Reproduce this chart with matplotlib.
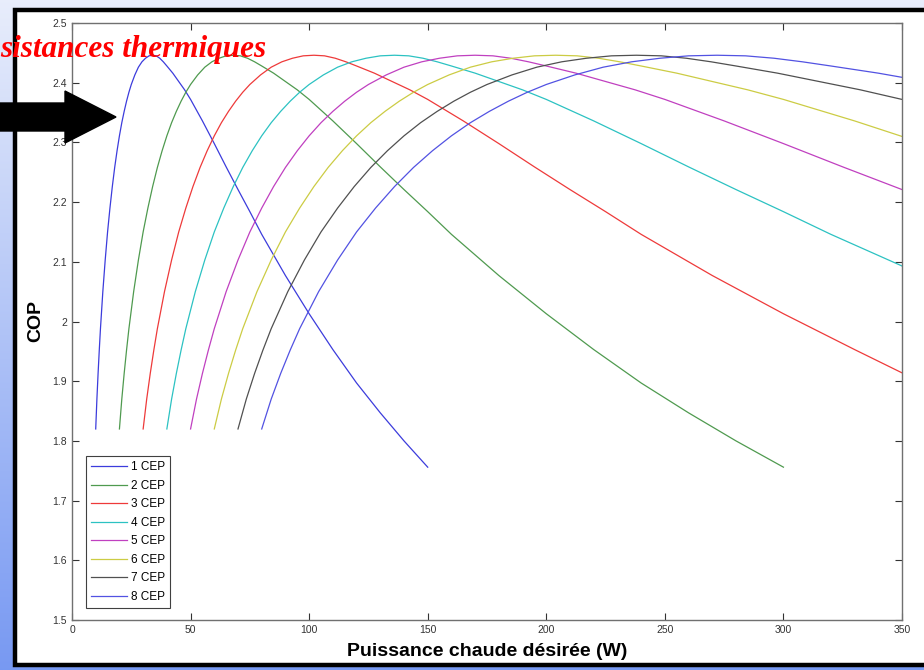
import numpy as np
import matplotlib
matplotlib.use("Agg")
import matplotlib.pyplot as plt
from matplotlib.patches import Rectangle, Polygon
from matplotlib.ticker import FormatStrFormatter

# Courbes COP en fonction de la puissance chaude, pour 1 a 8 CEP
p1 = [10, 10.5, 11, 11.5, 12, 13, 14, 15, 16, 17,
      18, 19, 20, 21, 22, 23, 24, 25, 26.5, 28,
      29.5, 31, 32.5, 34, 35.5, 37, 38.5, 40, 42.5, 45,
      47.5, 50, 55, 60, 65, 70, 75, 80, 90, 100,
      110, 120, 130, 140, 150]
cop1 = [1.820, 1.870, 1.913, 1.952, 1.988, 2.050, 2.103, 2.150, 2.190, 2.226,
        2.258, 2.286, 2.311, 2.333, 2.352, 2.369, 2.384, 2.397, 2.413, 2.426,
        2.435, 2.441, 2.445, 2.446, 2.445, 2.441, 2.435, 2.428, 2.416, 2.402,
        2.388, 2.372, 2.336, 2.298, 2.259, 2.221, 2.184, 2.146, 2.077, 2.013,
        1.953, 1.897, 1.847, 1.800, 1.756]

p2 = [20, 21, 22, 23, 24, 26, 28, 30, 32, 34,
      36, 38, 40, 42, 44, 46, 48, 50, 53, 56,
      59, 62, 65, 68, 71, 74, 77, 80, 85, 90,
      95, 100, 110, 120, 130, 140, 150, 160, 180, 200,
      220, 240, 260, 280, 300]
cop2 = [1.820, 1.870, 1.913, 1.952, 1.988, 2.050, 2.103, 2.150, 2.190, 2.226,
        2.258, 2.286, 2.311, 2.333, 2.352, 2.369, 2.384, 2.397, 2.413, 2.426,
        2.435, 2.441, 2.445, 2.446, 2.445, 2.441, 2.435, 2.428, 2.416, 2.402,
        2.388, 2.372, 2.336, 2.298, 2.259, 2.221, 2.184, 2.146, 2.077, 2.013,
        1.953, 1.897, 1.847, 1.800, 1.756]

p3 = [30, 31.5, 33, 34.5, 36, 39, 42, 45, 48, 51,
      54, 57, 60, 63, 66, 69, 72, 75, 79.5, 84,
      88.5, 93, 97.5, 102, 106.5, 111, 115.5, 120, 127.5, 135,
      142.5, 150, 165, 180, 195, 210, 225, 240, 270, 300,
      330, 350]
cop3 = [1.820, 1.870, 1.913, 1.952, 1.988, 2.050, 2.103, 2.150, 2.190, 2.226,
        2.258, 2.286, 2.311, 2.333, 2.352, 2.369, 2.384, 2.397, 2.413, 2.426,
        2.435, 2.441, 2.445, 2.446, 2.445, 2.441, 2.435, 2.428, 2.416, 2.402,
        2.388, 2.372, 2.336, 2.298, 2.259, 2.221, 2.184, 2.146, 2.077, 2.013,
        1.953, 1.914]

p4 = [40, 42, 44, 46, 48, 52, 56, 60, 64, 68,
      72, 76, 80, 84, 88, 92, 96, 100, 106, 112,
      118, 124, 130, 136, 142, 148, 154, 160, 170, 180,
      190, 200, 220, 240, 260, 280, 300, 320, 350]
cop4 = [1.820, 1.870, 1.913, 1.952, 1.988, 2.050, 2.103, 2.150, 2.190, 2.226,
        2.258, 2.286, 2.311, 2.333, 2.352, 2.369, 2.384, 2.397, 2.413, 2.426,
        2.435, 2.441, 2.445, 2.446, 2.445, 2.441, 2.435, 2.428, 2.416, 2.402,
        2.388, 2.372, 2.336, 2.298, 2.259, 2.221, 2.184, 2.146, 2.093]

p5 = [50, 52.5, 55, 57.5, 60, 65, 70, 75, 80, 85,
      90, 95, 100, 105, 110, 115, 120, 125, 132.5, 140,
      147.5, 155, 162.5, 170, 177.5, 185, 192.5, 200, 212.5, 225,
      237.5, 250, 275, 300, 325, 350]
cop5 = [1.820, 1.870, 1.913, 1.952, 1.988, 2.050, 2.103, 2.150, 2.190, 2.226,
        2.258, 2.286, 2.311, 2.333, 2.352, 2.369, 2.384, 2.397, 2.413, 2.426,
        2.435, 2.441, 2.445, 2.446, 2.445, 2.441, 2.435, 2.428, 2.416, 2.402,
        2.388, 2.372, 2.336, 2.298, 2.259, 2.221]

p6 = [60, 63, 66, 69, 72, 78, 84, 90, 96, 102,
      108, 114, 120, 126, 132, 138, 144, 150, 159, 168,
      177, 186, 195, 204, 213, 222, 231, 240, 255, 270,
      285, 300, 330, 350]
cop6 = [1.820, 1.870, 1.913, 1.952, 1.988, 2.050, 2.103, 2.150, 2.190, 2.226,
        2.258, 2.286, 2.311, 2.333, 2.352, 2.369, 2.384, 2.397, 2.413, 2.426,
        2.435, 2.441, 2.445, 2.446, 2.445, 2.441, 2.435, 2.428, 2.416, 2.402,
        2.388, 2.372, 2.336, 2.310]

p7 = [70, 73.5, 77, 80.5, 84, 91, 98, 105, 112, 119,
      126, 133, 140, 147, 154, 161, 168, 175, 185.5, 196,
      206.5, 217, 227.5, 238, 248.5, 259, 269.5, 280, 297.5, 315,
      332.5, 350]
cop7 = [1.820, 1.870, 1.913, 1.952, 1.988, 2.050, 2.103, 2.150, 2.190, 2.226,
        2.258, 2.286, 2.311, 2.333, 2.352, 2.369, 2.384, 2.397, 2.413, 2.426,
        2.435, 2.441, 2.445, 2.446, 2.445, 2.441, 2.435, 2.428, 2.416, 2.402,
        2.388, 2.372]

p8 = [80, 84, 88, 92, 96, 104, 112, 120, 128, 136,
      144, 152, 160, 168, 176, 184, 192, 200, 212, 224,
      236, 248, 260, 272, 284, 296, 308, 320, 340, 350]
cop8 = [1.820, 1.870, 1.913, 1.952, 1.988, 2.050, 2.103, 2.150, 2.190, 2.226,
        2.258, 2.286, 2.311, 2.333, 2.352, 2.369, 2.384, 2.397, 2.413, 2.426,
        2.435, 2.441, 2.445, 2.446, 2.445, 2.441, 2.435, 2.428, 2.416, 2.409]

series = [(p1, cop1), (p2, cop2), (p3, cop3), (p4, cop4),
          (p5, cop5), (p6, cop6), (p7, cop7), (p8, cop8)]
labels = ["1 CEP", "2 CEP", "3 CEP", "4 CEP", "5 CEP", "6 CEP", "7 CEP", "8 CEP"]
colors = ["#3c3cdc", "#4f9a4f", "#ee3a3a", "#2cc2c2",
          "#c040c0", "#cccc44", "#505050", "#5252e2"]

xticks = [0, 50, 100, 150, 200, 250, 300, 350]
yticks = [1.5, 1.6, 1.7, 1.8, 1.9, 2.0, 2.1, 2.2, 2.3, 2.4, 2.5]

W, H = 924, 670
fig = plt.figure(figsize=(W / 100, H / 100), dpi=100)

# fond de diapo (degrade bleu) + cadre noir
bg = fig.add_axes([0, 0, 1, 1], zorder=-5)
grad = np.linspace(0, 1, 256)[:, None]
top = np.array([0.91, 0.93, 0.985])
bot = np.array([0.47, 0.60, 0.95])
img = top[None, None, :] * (1 - grad[:, :, None]) + bot[None, None, :] * grad[:, :, None]
bg.imshow(img, aspect="auto", extent=[0, W, H, 0])
bg.set_xlim(0, W)
bg.set_ylim(H, 0)
bg.add_patch(Rectangle((15, 10), W + 20, 655, facecolor="white",
                       edgecolor="black", linewidth=3.2))
bg.axis("off")

# graphique
ax = fig.add_axes([72 / W, 1 - 620 / H, 830 / W, 597 / H])
for (x, y), lab, c in zip(series, labels, colors):
    ax.plot(x, y, color=c, linewidth=0.9, label=lab)

ax.set_xlim(0, 350)
ax.set_ylim(1.5, 2.5)
ax.set_xticks(xticks)
ax.set_yticks(yticks)
ax.yaxis.set_major_formatter(FormatStrFormatter("%g"))
ax.tick_params(direction="in", top=True, right=True, length=5, width=0.8,
               color="#333333", labelsize=7.5, labelcolor="#333333")
for s in ax.spines.values():
    s.set_color("#707070")
    s.set_linewidth(1.0)

ax.set_xlabel("Puissance chaude désirée (W)", fontsize=14, fontweight="bold",
              family="Liberation Sans", labelpad=6)
ax.set_ylabel("COP", fontsize=14, fontweight="bold", family="Liberation Sans",
              labelpad=6)
for t in ax.get_xticklabels() + ax.get_yticklabels():
    t.set_family("Liberation Sans")

leg = ax.legend(loc="lower left", bbox_to_anchor=(0.017, 0.02),
                prop={"family": "Liberation Sans", "size": 8.5},
                handlelength=3.0, handletextpad=0.35, labelspacing=0.55,
                borderpad=0.45, borderaxespad=0, fancybox=False, framealpha=1)
leg.get_frame().set_edgecolor("#404040")
leg.get_frame().set_linewidth(0.8)

# annotations par-dessus
ov = fig.add_axes([0, 0, 1, 1], zorder=10)
ov.set_xlim(0, W)
ov.set_ylim(H, 0)
ov.patch.set_alpha(0)
ov.axis("off")
ov.add_patch(Polygon([(0, 103), (65, 103), (65, 91), (116, 117), (65, 143),
                      (65, 131), (0, 131)], closed=True, facecolor="black",
                     edgecolor="black"))
ov.text(0, 57, "sistances thermiques", color="red", fontsize=22.5,
        fontweight="bold", fontstyle="italic", family="Liberation Serif",
        ha="left", va="baseline")

fig.savefig("out.png", dpi=100)
